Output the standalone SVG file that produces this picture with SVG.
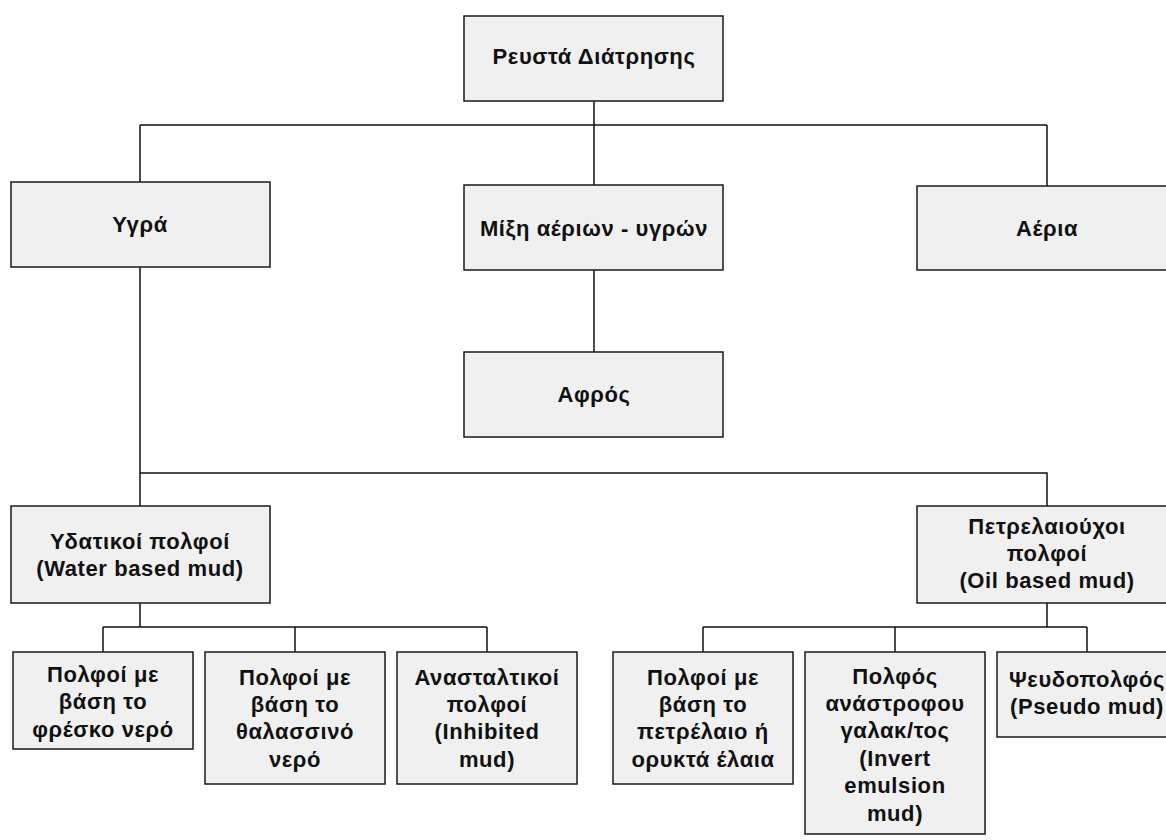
<svg xmlns="http://www.w3.org/2000/svg" width="1166" height="840" viewBox="0 0 1166 840">
<style>
.box{fill:#f0f0f0;stroke:#1a1a1a;stroke-width:1.5}
.t{font-family:"Liberation Sans",Arial,sans-serif;font-weight:bold;font-size:22px;letter-spacing:0.6px;fill:#111;text-anchor:middle}
.c{fill:none;stroke:#111;stroke-width:1.5}
</style>
<rect width="1166" height="840" fill="#fff"/>
<g id="connectors">
<path class="c" d="M594,101V125M140,125H1047M140,125V182M594,125V185M1047,125V186"/>
<path class="c" d="M594,270V352"/>
<path class="c" d="M140,267V506M140,473H1047V506"/>
<path class="c" d="M140,603V627M103,627H487M103,627V652M295,627V652M487,627V652"/>
<path class="c" d="M1047,603V627M703,627H1087M703,627V652M895,627V652M1087,627V652"/>
</g>
<g id="n-root"><rect class="box" x="464" y="16" width="259" height="85"/><text class="t" x="594" y="64">Ρευστά Διάτρησης</text></g>
<g id="n-ygra"><rect class="box" x="11" y="182" width="259" height="85"/><text class="t" x="140" y="232">Υγρά</text></g>
<g id="n-mixi"><rect class="box" x="464" y="185" width="259" height="85"/><text class="t" x="594" y="236">Μίξη αέριων - υγρών</text></g>
<g id="n-aeria"><rect class="box" x="917" y="186" width="259" height="84"/><text class="t" x="1047" y="236">Αέρια</text></g>
<g id="n-afros"><rect class="box" x="464" y="352" width="259" height="85"/><text class="t" x="594" y="402">Αφρός</text></g>
<g id="n-water"><rect class="box" x="11" y="506" width="259" height="97"/><text class="t" x="140" y="548.5">Υδατικοί πολφοί<tspan x="140" dy="27.4">(Water based mud)</tspan></text></g>
<g id="n-oil"><rect class="box" x="917" y="506" width="259" height="97"/><text class="t" x="1047" y="533.5">Πετρελαιούχοι<tspan x="1047" dy="27.4">πολφοί</tspan><tspan x="1047" dy="27.4">(Oil based mud)</tspan></text></g>
<g id="n-fresh"><rect class="box" x="13" y="652" width="180" height="97"/><text class="t" x="103" y="682">Πολφοί με<tspan x="103" dy="27.4">βάση το</tspan><tspan x="103" dy="27.4">φρέσκο νερό</tspan></text></g>
<g id="n-sea"><rect class="box" x="205" y="652" width="180" height="132"/><text class="t" x="295" y="684.5">Πολφοί με<tspan x="295" dy="27.4">βάση το</tspan><tspan x="295" dy="27.4">θαλασσινό</tspan><tspan x="295" dy="27.4">νερό</tspan></text></g>
<g id="n-inhib"><rect class="box" x="397" y="652" width="180" height="132"/><text class="t" x="487" y="684.5">Ανασταλτικοί<tspan x="487" dy="27.4">πολφοί</tspan><tspan x="487" dy="27.4">(Inhibited</tspan><tspan x="487" dy="27.4">mud)</tspan></text></g>
<g id="n-petrol"><rect class="box" x="613" y="652" width="180" height="132"/><text class="t" x="703" y="684.5">Πολφοί με<tspan x="703" dy="27.4">βάση το</tspan><tspan x="703" dy="27.4">πετρέλαιο ή</tspan><tspan x="703" dy="27.4">ορυκτά έλαια</tspan></text></g>
<g id="n-invert"><rect class="box" x="805" y="652" width="180" height="182"/><text class="t" x="895" y="683.5">Πολφός<tspan x="895" dy="27.4">ανάστροφου</tspan><tspan x="895" dy="27.4">γαλακ/τος</tspan><tspan x="895" dy="27.4">(Invert</tspan><tspan x="895" dy="27.4">emulsion</tspan><tspan x="895" dy="27.4">mud)</tspan></text></g>
<g id="n-pseudo"><rect class="box" x="997" y="652" width="180" height="85"/><text class="t" x="1087" y="687">Ψευδοπολφός<tspan x="1087" dy="27.4">(Pseudo mud)</tspan></text></g>
</svg>
